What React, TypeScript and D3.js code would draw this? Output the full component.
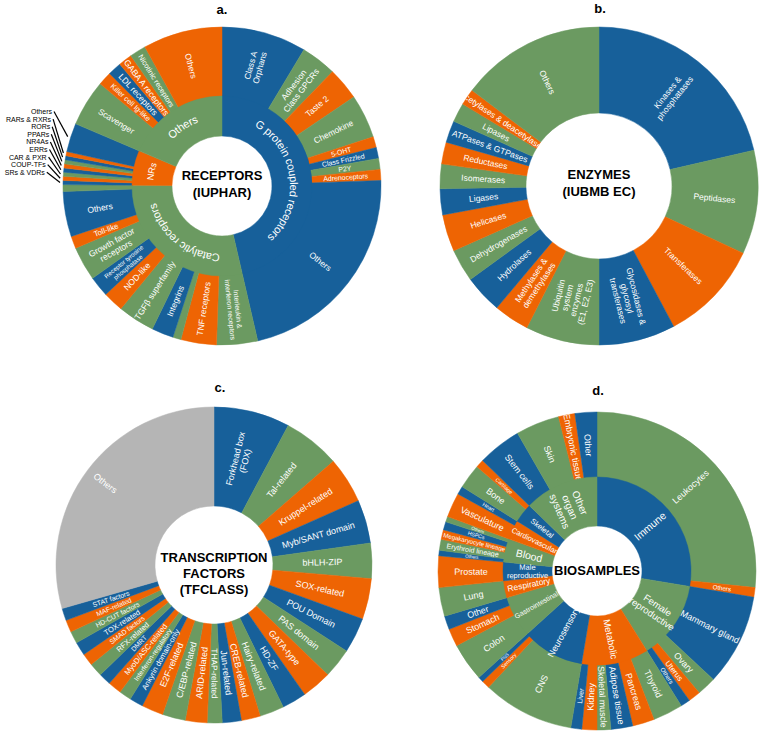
import React from "react";
import * as d3 from "d3";

const PALETTE: Record<string, string> = { b: "#17609a", g: "#6b9a61", o: "#ee6403", k: "#b5b5b5" };

// a. receptors (IUPHAR)
const receptorGroups = ["G protein coupled receptors", "Catalytic receptors", "NRs", "Others"];
const receptorGroupColors = "bgog";
const receptorNames = [
  "Class A\nOrphans", "Adhesion\nClass GPCRs", "Taste 2", "Chemokine", "5-OHT", "Class Frizzled", "P2Y", "Adrenoceptors", "Others",
  "Interleukin &\ninterferon receptors", "TNF receptors", "", "Integrins", "TGFβ superfamily", "NOD-like",
  "Receptor tyrosine\nphosphatase", "Growth factor\nreceptors", "Toll-like", "Others", "",
  "SRs & VDRs", "COUP-TFs", "CAR & PXR", "ERRs", "NR4As", "PPARs", "RORs", "RARs & RXRs", "Others",
  "Scavenger", "Killer cell Ig-like", "LDL receptors", "GABA A receptors", "Nicotinic receptors", "Others",
];
const receptorGroupOf = [0, 0, 0, 0, 0, 0, 0, 0, 0, 1, 1, 1, 1, 1, 1, 1, 1, 1, 1, 1, 2, 2, 2, 2, 2, 2, 2, 2, 2, 3, 3, 3, 3, 3, 3];
const receptorValues = [31, 13, 12, 16, 4, 4, 4, 4, 79, 15, 13, 3, 8, 13.5, 7.5, 7.5, 12.5, 4.5, 16.5, 2.5,
  1.5, 1.5, 1.5, 1.5, 1.5, 1.5, 1.5, 1.5, 10.5, 17, 5, 5, 5, 6, 29];
const receptorColors = "bgogobgob" + "gogbgobgobg" + "bogbogbob" + "gobogo";

// b. enzymes (IUBMB EC)
const enzymeNames = [
  "Kinases &\nphosphatases", "Peptidases", "Transferases", "Glycosidases &\nglycosyl\ntransferases",
  "Ubiquitin\nsystem\nenzymes\n(E1, E2, E3)", "Methylases &\ndemethylases", "Hydrolases", "Dehydrogenases",
  "Helicases", "Ligases", "Isomerases", "Reductases", "ATPases & GTPases", "Lipases", "Acetylases & deacetylases", "Others",
];
const enzymeValues = [77, 38, 37, 28, 27, 13, 14, 12, 13.5, 9.5, 9, 8, 8, 7, 6, 53];
const enzymeColors = "bgobgobgobgobgog";

// c. transcription factors (TFCLASS)
const tfNames = [
  "Forkhead box\n(FOX)", "Tal-related", "Kruppel-related", "Myb/SANT domain", "bHLH-ZIP", "SOX-related", "POU Domain",
  "PAS domain", "GATA-type", "HD-ZF", "Hairy-related", "CREB-related", "Jun-related", "THAP-related", "ARID-related",
  "C/EBP-related", "E2F-related", "Ankyrin domain-only", "Interferon-regulatory", "MyoD/ASC-related", "DMRT",
  "RFX-related", "SMAD factors", "TOX-related", "HD-CUT factors", "MAF-related", "STAT factors", "Others",
];
const tfValues = [28, 21, 17, 16, 13, 15, 13, 11, 11, 9, 9, 7, 7, 5.5, 8, 8.5, 8, 5, 4.5, 5, 4.5, 5, 4.5, 5, 4.5, 4.5, 4.5, 106];
const tfColors = "bgobgobgobgobg" + "ogo" + "bgobgobgob" + "k";

// d. biosamples
const bioGroups = ["Immune", "Female\nreproductive", "Metabolic", "Neurosensory", "Gastrointestinal", "Respiratory",
  "Male\nreproductive", "Blood", "Cardiovascular", "Skeletal", "Other\norgan\nsystems"];
const bioGroupColors = "bgobgobgobg";
const bioGroupFont = [10.5, 9.5, 9.5, 9, 7, 8.5, 7.5, 10.5, 7.5, 7.5, 10];
const bioNames = [
  "Leukocytes", "Others",
  "Mammary gland", "Ovary", "Uterus", "Others",
  "Thyroid", "Pancreas", "Adipose tissue", "Skeletal muscle", "Kidney", "Liver",
  "CNS", "Sensory", "PNS",
  "Colon", "Stomach", "Other",
  "Lung",
  "Prostate",
  "Others", "Erythroid lineage", "Megakaryocyte lineage", "HSPCs", "Others",
  "Vasculature", "Heart",
  "Bone", "Cartilage",
  "Stem cells", "Skin", "Embryonic tissue", "Other",
];
const bioGroupOf = [0, 0, 1, 1, 1, 1, 2, 2, 2, 2, 2, 2, 3, 3, 3, 4, 4, 4, 5, 6, 7, 7, 7, 7, 7, 8, 8, 9, 9, 10, 10, 10, 10];
const bioValues = [96, 3.5, 33.5, 7, 4.5, 3.5, 11, 8, 8, 5, 5.5, 4, 33.5, 3, 2, 14, 6.5, 5, 10.5, 11.5,
  2, 4, 3.5, 3, 2, 9, 3, 9, 3, 16, 16, 6, 8];
const bioColors = "go" + "bgob" + "gobgob" + "gob" + "gob" + "g" + "o" + "bgobg" + "ob" + "go" + "bgob";

type Seg = { name: string; a0: number; a1: number; color: string };

function layoutRing(names: string[], values: number[], colors: string): Seg[] {
  const pie = d3.pie<number>().sort(null).value((v) => v)(values);
  return pie.map((p, i) => ({ name: names[i], a0: p.startAngle, a1: p.endAngle, color: PALETTE[colors[i]] }));
}

function groupTotals(n: number, groupOf: number[], values: number[]) {
  return d3.range(n).map((g) => d3.sum(values.filter((_, i) => groupOf[i] === g)));
}

type RingStyle = {
  r0: number; r1: number; base: number; min?: number; k?: number; clip?: boolean;
  skip?: (i: number) => boolean; sizes?: number[]; labelR?: (i: number, r: number) => number;
};

function labelSize(d: Seg, s: RingStyle, r: number) {
  const lines = d.name.split("\n");
  const maxChars = d3.max(lines, (l) => l.length) || 1;
  const byArc = ((d.a1 - d.a0) * r * 0.8) / (lines.length * 1.1 - 0.1);
  const byRad = ((s.r1 - s.r0) * (s.k ?? 1)) / (maxChars * 0.5);
  return Math.max(s.min ?? 4.5, Math.min(s.base, byArc, byRad));
}

function RadialLabel({ d, r, fs }: { d: Seg; r: number; fs: number }) {
  const deg = (((d.a0 + d.a1) / 2) * 180) / Math.PI;
  const lines = d.name.split("\n");
  const t = `rotate(${deg - 90}) translate(${r},0) rotate(${deg < 180 ? 0 : 180})`;
  return (
    <text transform={t} textAnchor="middle" fontSize={fs} fill="#fff">
      {lines.map((l, j) => (
        <tspan key={j} x={0} y={((j - (lines.length - 1) / 2) * 1.1 + 0.35) * fs}>{l}</tspan>
      ))}
    </text>
  );
}

function Ring({ id, segs, s, labels = true }: { id: string; segs: Seg[]; s: RingStyle; labels?: boolean }) {
  const arc = d3.arc<Seg>().innerRadius(s.r0).outerRadius(s.r1).startAngle((d) => d.a0).endAngle((d) => d.a1);
  const lr = (s.r0 + s.r1) / 2;
  return (
    <g>
      {segs.map((d, i) => <path key={i} d={arc(d) || ""} fill={d.color} stroke={d.color} strokeWidth={0.5} />)}
      {s.clip && (
        <defs>
          {segs.map((d, i) => <clipPath key={i} id={`${id}-${i}`}><path d={arc(d) || ""} /></clipPath>)}
        </defs>
      )}
      {labels && segs.map((d, i) =>
        d.name && !(s.skip && s.skip(i)) ? (
          <g key={i} clipPath={s.clip ? `url(#${id}-${i})` : undefined}>
            <RadialLabel d={d} r={s.labelR ? s.labelR(i, lr) : lr} fs={s.sizes ? s.sizes[i] : labelSize(d, s, lr)} />
          </g>
        ) : null
      )}
    </g>
  );
}

function CurvedLabels({ id, segs, r, sizes }: { id: string; segs: Seg[]; r: number; sizes: number[] }) {
  return (
    <g>
      {segs.map((d, i) => {
        const p0 = [r * Math.sin(d.a0), -r * Math.cos(d.a0)];
        const p1 = [r * Math.sin(d.a1), -r * Math.cos(d.a1)];
        const large = d.a1 - d.a0 > Math.PI ? 1 : 0;
        const pid = `${id}-cp${i}`;
        return (
          <g key={i}>
            <path id={pid} d={`M${p0[0]},${p0[1]} A${r},${r} 0 ${large} 1 ${p1[0]},${p1[1]}`} fill="none" />
            <text fontSize={sizes[i]} fill="#fff" dominantBaseline="middle">
              <textPath href={`#${pid}`} startOffset="50%" textAnchor="middle">{d.name}</textPath>
            </text>
          </g>
        );
      })}
    </g>
  );
}

function Title({ lines, y0, step }: { lines: string[]; y0: number; step: number }) {
  return (
    <text textAnchor="middle" fontWeight="bold" fontSize={13} fill="#000">
      {lines.map((l, i) => <tspan key={i} x={0} y={y0 + i * step}>{l}</tspan>)}
    </text>
  );
}

function PanelA() {
  const cx = 222, cy = 186, r0 = 50, r1 = 90, r2 = 159;
  const inner = layoutRing(receptorGroups, groupTotals(receptorGroups.length, receptorGroupOf, receptorValues), receptorGroupColors);
  const outer = layoutRing(receptorNames, receptorValues, receptorColors);
  const nr = outer.map((d, i) => ({ d, i })).filter((x) => receptorGroupOf[x.i] === 2).reverse();
  return (
    <g transform={`translate(${cx},${cy})`}>
      <Ring id="ra-out" segs={outer} s={{ r0: r1 - 1, r1: r2, base: 8.5, skip: (i) => receptorGroupOf[i] === 2 }} />
      <Ring id="ra-in" segs={inner} s={{ r0, r1, base: 11 }} labels={false} />
      <CurvedLabels id="ra" segs={inner} r={(r0 + r1) / 2 + 1} sizes={[11, 11, 9, 11]} />
      {nr.map(({ d }, j) => {
        const y = 114 + j * 7.6 - cy;
        const xe = 52 - j * 0.9 - cx;
        const m = (d.a0 + d.a1) / 2;
        const rr = r2 + 3;
        return (
          <g key={j}>
            <text x={xe} y={y} textAnchor="end" fontSize={7} fill="#000">{d.name}</text>
            <line x1={xe + 2} y1={y - 2.5} x2={rr * Math.sin(m)} y2={-rr * Math.cos(m)} stroke="#000" strokeWidth={1.2} />
          </g>
        );
      })}
      <Title lines={["RECEPTORS", "(IUPHAR)"]} y0={-6} step={16.5} />
    </g>
  );
}

function PanelB() {
  const segs = layoutRing(enzymeNames, enzymeValues, enzymeColors);
  return (
    <g transform="translate(599,186)">
      <Ring id="rb" segs={segs} s={{ r0: 73, r1: 159, base: 8.5, k: 1.5, clip: true }} />
      <Title lines={["ENZYMES", "(IUBMB EC)"]} y0={-7.5} step={17} />
    </g>
  );
}

function PanelC() {
  const segs = layoutRing(tfNames, tfValues, tfColors);
  return (
    <g transform="translate(214,565)">
      <Ring id="rc" segs={segs}
        s={{ r0: 59, r1: 158, base: 9, labelR: (i, r) => (i === segs.length - 1 ? 136 : r) }} />
      <Title lines={["TRANSCRIPTION", "FACTORS", "(TFCLASS)"]} y0={-3} step={16} />
    </g>
  );
}

function PanelD() {
  const inner = layoutRing(bioGroups, groupTotals(bioGroups.length, bioGroupOf, bioValues), bioGroupColors);
  const outer = layoutRing(bioNames, bioValues, bioColors);
  return (
    <g transform="translate(597,571)">
      <Ring id="rd-out" segs={outer} s={{ r0: 93, r1: 159, base: 9, k: 1.15, clip: true }} />
      <Ring id="rd-in" segs={inner} s={{ r0: 45, r1: 94, base: 10.5, sizes: bioGroupFont }} />
      <Title lines={["BIOSAMPLES"]} y0={4} step={16} />
    </g>
  );
}

export default function App() {
  return (
    <svg width={760} height={732} style={{ position: "absolute", left: 0, top: 0, background: "#fff" }}
      fontFamily="'Liberation Sans', Arial, sans-serif">
      <PanelA />
      <PanelB />
      <PanelC />
      <PanelD />
      <g fontWeight="bold" fontSize={13} textAnchor="middle" fill="#000">
        <text x={222} y={14}>a.</text>
        <text x={600} y={13}>b.</text>
        <text x={220} y={392}>c.</text>
        <text x={598} y={395}>d.</text>
      </g>
    </svg>
  );
}
